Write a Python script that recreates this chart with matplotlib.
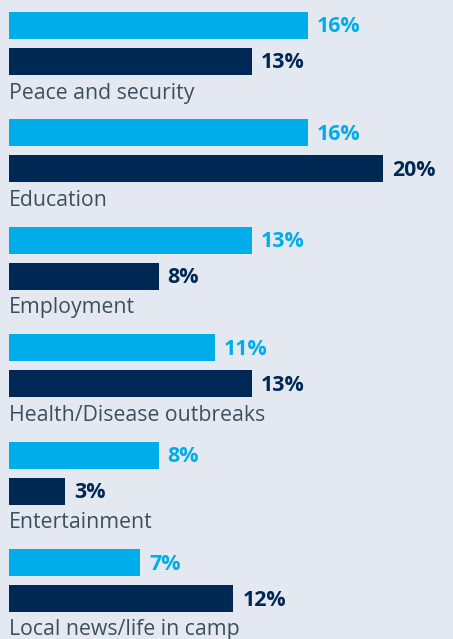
import matplotlib.pyplot as plt

topics = ["Peace and security", "Education", "Employment",
          "Health/Disease outbreaks", "Entertainment", "Local news/life in camp"]
light_vals = [16, 16, 13, 11, 8, 7]
dark_vals = [13, 20, 8, 13, 3, 12]

light_col = "#00adeb"
dark_col = "#002855"
bg = "#e4e9f1"
label_col = "#3d4f5f"

W, H = 453, 639
fig = plt.figure(figsize=(W / 100, H / 100), dpi=100, facecolor=bg)
ax = fig.add_axes([0, 0, 1, 1])
ax.set_facecolor(bg)

# x in percent, y in pixel rows (top down)
px_per_pct = 18.7
x0 = 9
ax.set_xlim(-x0 / px_per_pct, (W - x0) / px_per_pct)
ax.set_ylim(H, 0)

step = 107.4
bar_h = 27
gap = 9 / px_per_pct

for i, t in enumerate(topics):
    yl = 25.5 + i * step
    yd = 61.5 + i * step
    ax.barh(yl, light_vals[i], height=bar_h, color=light_col)
    ax.barh(yd, dark_vals[i], height=bar_h, color=dark_col)
    ax.text(light_vals[i] + gap, yl + 1.5, f"{light_vals[i]}%", color=light_col,
            fontsize=15.4, fontweight="bold", family="Open Sans", va="center", ha="left")
    ax.text(dark_vals[i] + gap, yd + 1.5, f"{dark_vals[i]}%", color=dark_col,
            fontsize=15.4, fontweight="bold", family="Open Sans", va="center", ha="left")
    ax.text(0, 93 + i * step, t, color=label_col, fontsize=15.3,
            family="Open Sans", va="center", ha="left")

ax.axis("off")
fig.savefig("out.png", dpi=100, facecolor=bg)
